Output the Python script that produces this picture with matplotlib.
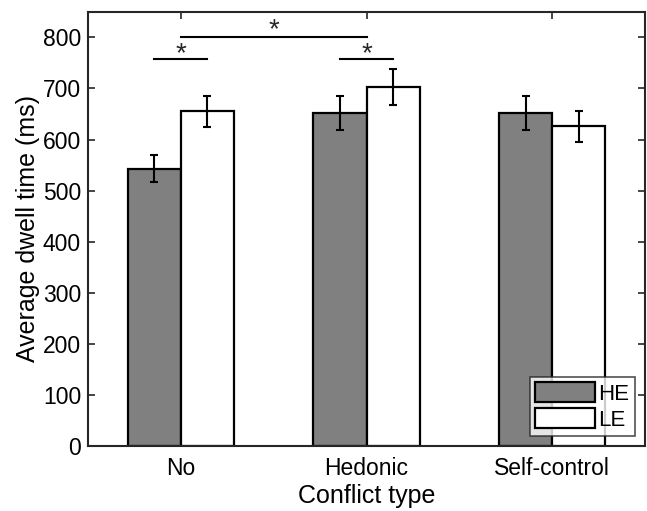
import numpy as np
import matplotlib
matplotlib.use('Agg')
import matplotlib.pyplot as plt

plt.rcParams['font.family'] = ['Liberation Sans', 'DejaVu Sans']

# Data
categories = ['No', 'Hedonic', 'Self-control']
he_means = [543, 652, 652]
he_err = [26, 33, 33]
le_means = [655, 703, 626]
le_err = [31, 35, 30]

x = np.arange(1, len(categories) + 1)
w = 0.286

fig = plt.figure(figsize=(6.47, 5.11), dpi=100)
ax = fig.add_axes([0.136, 0.127, 0.861, 0.850])

ax.bar(x - w / 2, he_means, w, color='#808080', edgecolor='black', linewidth=1.6, label='HE', zorder=2)
ax.bar(x + w / 2, le_means, w, color='white', edgecolor='black', linewidth=1.6, label='LE', zorder=2)
ax.errorbar(x - w / 2, he_means, yerr=he_err, fmt='none', ecolor='black', elinewidth=1.5, capsize=2.8, capthick=1.5, zorder=3)
ax.errorbar(x + w / 2, le_means, yerr=le_err, fmt='none', ecolor='black', elinewidth=1.5, capsize=2.8, capthick=1.5, zorder=3)

# significance markers
ax.plot([x[0] - w / 2, x[0] + w / 2], [758, 758], color='black', lw=1.5)
ax.text(x[0], 766, '*', ha='center', va='center', fontsize=20, color='#262626')
ax.plot([x[1] - w / 2, x[1] + w / 2], [758, 758], color='black', lw=1.5)
ax.text(x[1], 766, '*', ha='center', va='center', fontsize=20, color='#262626')
ax.plot([x[0], x[1]], [800, 800], color='black', lw=1.5)
ax.text((x[0] + x[1]) / 2, 813, '*', ha='center', va='center', fontsize=20, color='#262626')

ax.set_xlim(0.5, 3.5)
ax.set_ylim(0, 850)
ax.set_xticks(x)
ax.set_xticklabels(categories)
ax.set_yticks(np.arange(0, 801, 100))
ax.tick_params(direction='in', length=5, width=1.2, labelsize=16.5, top=True, right=True, color='#262626')
ax.tick_params(axis='x', pad=8)
ax.tick_params(axis='y', pad=5)
for s in ax.spines.values():
    s.set_linewidth(1.5)
    s.set_color('#262626')
ax.set_xlabel('Conflict type', fontsize=18, labelpad=3)
ax.set_ylabel('Average dwell time (ms)', fontsize=18, labelpad=2)

leg = ax.legend(loc='lower right', fontsize=16, frameon=True, fancybox=False, edgecolor='#262626',
                borderaxespad=0.45, handlelength=2.7, handleheight=1.0, handletextpad=0.15,
                borderpad=0.25, labelspacing=0.15)
leg.get_frame().set_linewidth(1.2)

fig.savefig('out.png', dpi=100)
